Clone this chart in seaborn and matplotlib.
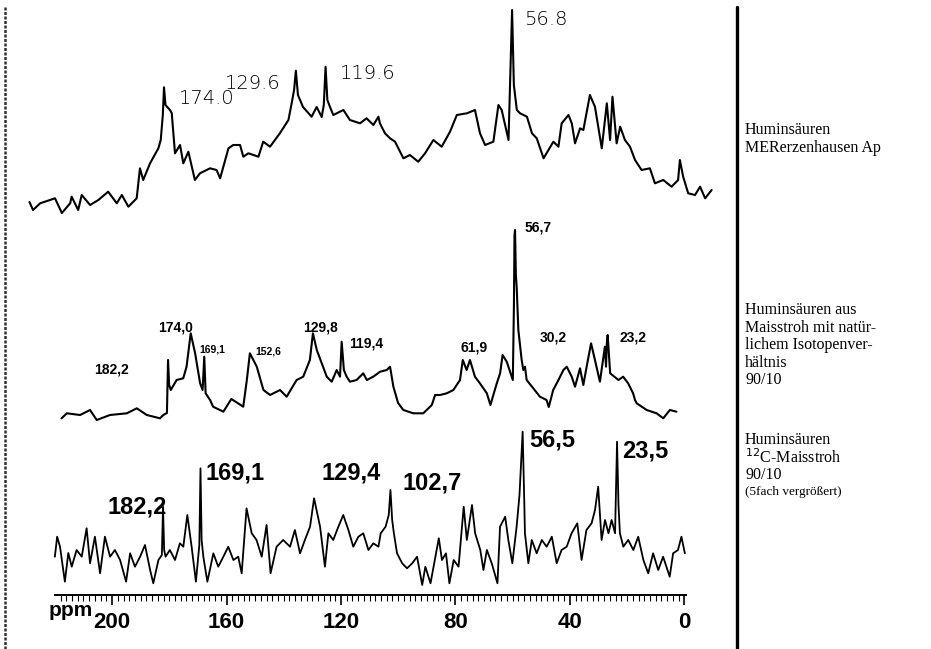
import matplotlib
matplotlib.use("Agg")
import matplotlib.pyplot as plt
from matplotlib.lines import Line2D
from matplotlib.ticker import FixedLocator, MultipleLocator
import seaborn as sns

# ---------------------------------------------------------------
# 13C-NMR spectra of humic acids (ppm, relative intensity)
# ---------------------------------------------------------------

# Huminsäuren MERerzenhausen Ap
ap_ppm = [219.3, 218.1, 215.7, 212.4, 210.7, 208.4, 205.6, 205.1, 202.9, 201.7,
          198.9, 196.1, 192.8, 189.9, 188.2, 186.0, 183.2, 182.1, 181.0, 178.7,
          175.9, 175.1, 174.4, 174.0, 173.5, 172.0, 171.4, 170.3, 168.6, 167.5,
          165.8, 163.6, 161.9, 158.5, 156.3, 155.1, 154.0, 152.3, 150.7, 148.4,
          147.3, 145.6, 142.2, 140.6, 138.3, 135.0, 132.1, 131.0, 130.2, 129.6,
          128.9, 128.2, 127.2, 124.3, 122.6, 120.9, 120.2, 119.6, 119.0, 118.1,
          117.0, 113.6, 111.4, 108.0, 105.8, 103.5, 101.8, 101.3, 99.6, 97.9,
          96.2, 93.4, 91.2, 88.4, 86.1, 83.3, 80.5, 77.7, 75.4, 72.0,
          69.3, 67.6, 65.9, 63.1, 61.4, 60.3, 58.0, 57.4, 56.8, 56.2,
          55.2, 54.1, 51.8, 50.1, 48.5, 46.2, 42.9, 41.2, 40.1, 37.8,
          36.7, 35.6, 33.9, 32.8, 30.6, 28.9, 26.6, 24.9, 23.8, 23.0,
          21.6, 20.4, 18.8, 17.1, 15.4, 13.2, 10.4, 8.7, 5.9, 3.1,
          0.9, 0.3, -0.8, -2.5, -4.8, -6.5, -8.2, -10.4]
ap_int = [13, 5, 11.7, 15, 16.7, 2, 11.7, 18.3, 5, 20,
          10, 15, 23.3, 11.7, 20, 8.3, 16.7, 46.7, 35, 51.7,
          66.7, 75, 100, 127.7, 110, 105, 102, 61.7, 70, 51.7,
          63.3, 35, 41.7, 46.7, 45, 36.7, 48.3, 66.7, 70, 70,
          58.3, 61.7, 58.3, 73.3, 68.3, 81.7, 95, 112, 125, 144.3,
          120, 115, 108, 98.3, 108, 98, 110, 148.3, 115, 108,
          100, 105, 95, 91.7, 96.7, 90, 98.3, 91.7, 81.7, 76.7,
          73.3, 56.7, 60, 53.3, 61.7, 75, 68.3, 83.3, 100, 101.7,
          105, 81.7, 70, 73.3, 110, 105, 75, 140, 205, 130,
          105, 101.7, 98.3, 81.7, 76.7, 56.7, 73.3, 68.3, 91.7, 100,
          91.7, 71.7, 86.7, 85, 120, 108.3, 66.7, 111.7, 75, 118.3,
          71.7, 88.3, 75, 68.3, 55, 45, 46.7, 31.7, 35, 28.3,
          35, 55, 38.3, 21.7, 20, 28.3, 16.7, 25]

# Huminsäuren aus Maisstroh mit natürlichem Isotopenverhältnis 90/10
nat_ppm = [220.7, 218.8, 214.0, 210.4, 208.0, 203.2, 197.1, 193.5, 189.9, 185.1,
           183.9, 182.6, 182.2, 181.8, 181.2, 179.1, 176.7, 175.5, 174.0, 172.4,
           170.6, 169.7, 169.1, 168.6, 167.0, 165.9, 162.2, 159.3, 155.0, 153.7,
           152.6, 150.1, 147.7, 145.3, 141.7, 139.3, 135.7, 133.3, 130.9, 129.8,
           128.4, 126.6, 124.8, 123.0, 121.2, 120.0, 119.4, 118.6, 117.6, 116.4,
           114.0, 111.6, 110.3, 108.0, 105.5, 103.1, 101.9, 100.7, 99.0, 97.1,
           93.5, 89.9, 86.8, 85.6, 83.8, 81.4, 79.0, 76.6, 75.6, 74.2,
           73.0, 71.2, 69.4, 66.9, 65.6, 63.3, 62.1, 61.2, 59.7, 58.5,
           57.5, 57.1, 56.9, 56.7, 56.4, 56.1, 55.5, 54.3, 53.7, 53.1,
           52.5, 50.1, 47.7, 45.3, 44.5, 42.9, 41.0, 39.2, 38.0, 36.2,
           35.0, 33.2, 32.0, 30.8, 29.2, 27.8, 26.0, 24.2, 23.8, 23.5,
           23.2, 22.3, 19.3, 17.6, 15.8, 14.0, 13.3, 12.7, 9.1, 5.5,
           3.1, 0.7, -1.7]
nat_int = [6.7, 11.7, 10, 15, 5, 10, 11.7, 16.7, 10, 6.7,
           10, 12, 65, 40, 35, 45, 46.7, 58.3, 91.7, 71.7,
           41.7, 35, 68.3, 31.7, 25, 18.3, 13.3, 26, 18.3, 45,
           71.7, 58.3, 35, 30, 35, 28.3, 45, 48.3, 65, 91.7,
           75, 61.7, 48.3, 43.3, 55, 48.3, 83.3, 55, 48.3, 43.3,
           45, 51.7, 45, 48.3, 53.3, 55, 58.3, 38.3, 22, 15,
           11.7, 11.7, 20, 30, 30, 31.7, 35, 45, 65, 55,
           65, 48.3, 41.7, 31.7, 20, 41.7, 51.7, 70, 63.3, 53.3,
           45, 120, 190, 195, 150, 138, 95, 65, 55, 58.3,
           45, 36.7, 28.3, 25, 18, 35, 45, 55, 58.3, 48.3,
           38.3, 56.7, 40, 58.3, 81.7, 65, 43.3, 78.3, 58.3, 81.7,
           90, 51.7, 45, 48.3, 41.7, 31.7, 25, 21.7, 15, 11.7,
           6.7, 15, 13.3]

# Huminsäuren 12C-Maisstroh 90/10 (5fach vergrößert)
c12_ppm = [220.0, 219.2, 218.2, 216.5, 215.3, 214.1, 212.4, 210.6, 208.9, 207.7,
           206.0, 204.2, 202.5, 200.7, 199.0, 197.2, 195.1, 193.7, 192.0, 190.2,
           188.5, 186.7, 185.6, 183.8, 182.6, 182.2, 181.8, 181.3, 179.8, 178.0,
           176.3, 175.1, 173.7, 172.2, 170.7, 169.5, 169.1, 168.7, 168.1, 166.7,
           164.6, 162.9, 161.1, 159.4, 157.6, 155.9, 154.7, 153.0, 151.2, 149.5,
           147.7, 146.0, 144.6, 142.5, 140.2, 137.8, 136.1, 134.3, 132.6, 130.8,
           129.4, 127.3, 125.6, 124.4, 122.7, 120.9, 119.2, 117.4, 115.7, 113.9,
           112.2, 110.4, 108.7, 106.9, 106.1, 104.4, 103.3, 102.7, 102.1, 101.5,
           100.4, 98.6, 96.9, 95.1, 93.4, 91.6, 90.5, 88.7, 87.0, 85.8,
           84.7, 83.3, 82.1, 80.6, 78.9, 77.1, 76.0, 74.2, 73.1, 71.3,
           70.2, 69.0, 67.3, 65.3, 64.4, 62.6, 61.5, 60.1, 58.6, 57.6,
           56.5, 55.9, 55.7, 54.5, 53.3, 51.6, 49.8, 48.1, 46.3, 44.6,
           42.9, 41.1, 39.4, 37.4, 35.9, 34.2, 32.4, 31.2, 30.1, 28.9,
           27.7, 26.5, 25.4, 24.2, 23.5, 23.0, 22.5, 21.3, 19.6, 17.8,
           16.1, 14.3, 12.6, 10.9, 9.1, 7.4, 5.1, 3.9, 2.2, 1.0,
           -0.2]
c12_int = [38.3, 58.3, 48.3, 13.3, 42, 28.3, 45, 38.3, 66.7, 31.7,
           58.3, 21.7, 58.3, 38.3, 45, 35, 13.3, 41.7, 28.3, 38.3,
           50, 25, 11.7, 35, 40, 88.3, 45, 38.3, 45, 35,
           51.7, 48.3, 80, 48.3, 13.3, 50, 126.7, 55, 38.3, 13.3,
           41.7, 28.3, 38.3, 48.3, 35, 38.3, 21.7, 86.7, 61.7, 55,
           38.3, 70, 21.7, 48.3, 55, 48.3, 65, 41.7, 55, 68.3,
           96.7, 68.3, 28.3, 61.7, 55, 68.3, 80, 65, 48.3, 58.3,
           61.7, 45, 51.7, 48.3, 61.7, 68.3, 80, 105, 75, 61.7,
           41.7, 31.7, 26.7, 31.7, 38.3, 10, 28.3, 11.7, 38.3, 56.7,
           35, 41.7, 11.7, 35, 28.3, 88.3, 55, 90, 61.7, 45,
           25, 45, 31.7, 11.7, 68.3, 78.3, 55, 31.7, 68.3, 100,
           163.3, 90, 61.7, 31.7, 55, 41.7, 55, 48.3, 58.3, 31.7,
           45, 48.3, 61.7, 71.7, 35, 65, 71.7, 85, 108.3, 55,
           75, 61.7, 75, 61.7, 153.3, 90, 61.7, 48.3, 55, 45,
           58.3, 35, 21.7, 41.7, 25, 38.3, 18.3, 41.7, 45, 58.3,
           41.7]

# Peak annotations: text, ppm position, intensity position
ap_labels = [("56.8", 45.4, 196), ("174.0", 159.5, 117),
             ("129.6", 144.0, 132), ("119.6", 105.3, 142)]
nat_labels = [("182,2", 202.5, 55), ("174,0", 179.3, 98), ("129,8", 127.2, 98),
              ("119,4", 110.6, 82), ("61,9", 71.5, 78), ("56,7", 48.4, 197),
              ("30,2", 43.0, 87), ("23,2", 14.0, 87)]
nat_small_labels = [("169,1", 166.3, 76), ("152,6", 146.0, 73)]
c12_labels = [("182,2", 191.3, 88), ("169,1", 157.0, 122), ("129,4", 116.5, 122),
              ("102,7", 88.2, 112), ("56,5", 46.2, 155), ("23,5", 13.6, 144)]

axis_ticks = [200, 160, 120, 80, 40, 0]

sample_names = [
    ["Huminsäuren", "MERerzenhausen Ap"],
    ["Huminsäuren aus", "Maisstroh mit natür-", "lichem Isotopenver-",
     "hältnis", "90/10"],
    ["Huminsäuren", "$^{12}$C-Maisstroh", "90/10"],
]

# ---------------------------------------------------------------
sns.set_theme(style="white")
plt.rcParams['font.family'] = ['Liberation Sans', 'DejaVu Sans']
plt.rcParams['text.color'] = 'black'
plt.rcParams['xtick.color'] = 'black'
plt.rcParams['axes.labelcolor'] = 'black'

W, H = 931, 649
fig = plt.figure(figsize=(W / 100, H / 100), dpi=100)


def pixel_axes(x0, x1, y_zero, height):
    """Transparent axes whose data-zero sits at pixel row y_zero, spanning x0..x1 px."""
    ax = fig.add_axes([x0 / W, (H - y_zero) / H, (x1 - x0) / W, height / H])
    ax.patch.set_visible(False)
    return ax


def trace(ax, ppm, inten, lw):
    sns.lineplot(x=ppm, y=inten, ax=ax, color="black", linewidth=lw,
                 estimator=None, sort=True)
    for line in ax.lines:
        line.set_clip_on(False)


# top trace
ax_top = pixel_axes(30, 713, 215, 212)
trace(ax_top, ap_ppm, ap_int, 1.5)
ax_top.set_xlim(219.12, -10.85)
ax_top.set_ylim(0, 212)
ax_top.axis("off")
for t, x, y in ap_labels:
    ax_top.text(x, y, t, ha="center", va="center", fontsize=14,
                family="DejaVu Sans", fontweight="light")

# middle trace
ax_mid = pixel_axes(62, 678, 425, 210)
trace(ax_mid, nat_ppm, nat_int, 1.5)
ax_mid.set_xlim(220.55, -2.24)
ax_mid.set_ylim(0, 210)
ax_mid.axis("off")
for t, x, y in nat_labels:
    ax_mid.text(x, y, t, ha="center", va="center", fontsize=10, fontweight="bold")
for t, x, y in nat_small_labels:
    ax_mid.text(x, y, t, ha="center", va="center", fontsize=7.5, fontweight="bold")

# bottom trace with the ppm scale
ax_bot = pixel_axes(55, 686, 595, 200)
trace(ax_bot, c12_ppm, c12_int, 1.3)
ax_bot.set_xlim(219.95, -0.60)
ax_bot.set_ylim(0, 200)
for side in ("top", "left", "right"):
    ax_bot.spines[side].set_visible(False)
ax_bot.spines["bottom"].set_linewidth(1.4)
ax_bot.spines["bottom"].set_color("black")
ax_bot.set_yticks([])
ax_bot.set_xlabel("")
ax_bot.set_ylabel("")
ax_bot.xaxis.set_major_locator(FixedLocator(axis_ticks))
ax_bot.xaxis.set_minor_locator(MultipleLocator(2))
ax_bot.set_xticklabels([str(v) for v in axis_ticks])
ax_bot.tick_params(axis="x", which="major", direction="out", length=7, width=1.2,
                   color="black", pad=5, labelsize=16, bottom=True)
ax_bot.tick_params(axis="x", which="minor", direction="out", length=4, width=0.8,
                   color="black", bottom=True)
for lab in ax_bot.get_xticklabels():
    lab.set_fontweight("bold")
for t, x, y in c12_labels:
    ax_bot.text(x, y, t, ha="center", va="center", fontsize=17, fontweight="bold")

fig.text(71 / W, 1 - 611 / H, "ppm", ha="center", va="center", fontsize=15,
         fontweight="bold")

# frame lines left and right
fig.add_artist(Line2D([5 / W, 5 / W], [0, 1 - 7 / H], color="#333333",
                      linewidth=1.8, linestyle=(0, (1.2, 0.6))))
fig.add_artist(Line2D([737 / W, 737 / W], [0, 1 - 7 / H], color="black",
                      linewidth=2.4))

# sample descriptions
serif = ["Liberation Serif", "DejaVu Serif"]
row_tops = [130, 310, 440]
for lines, y0 in zip(sample_names, row_tops):
    for i, line in enumerate(lines):
        fig.text(745 / W, 1 - (y0 + 17.5 * i) / H, line, ha="left", va="center",
                 fontsize=11.5, family=serif)
fig.text(745 / W, 1 - (440 + 17.5 * 3) / H, "(5fach vergrößert)", ha="left",
         va="center", fontsize=9.5, family=serif)

fig.savefig("out.png", dpi=100)
